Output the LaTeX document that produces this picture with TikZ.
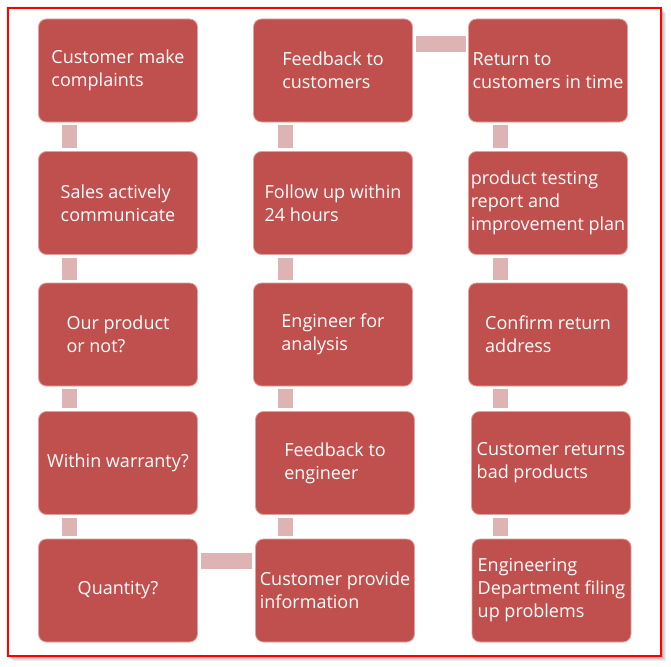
\documentclass[tikz,border=0pt]{standalone}
\usepackage{fontspec}
\setmainfont{Open Sans}
\usetikzlibrary{calc}
\definecolor{boxred}{RGB}{192,80,77}
\definecolor{boxedge}{RGB}{226,160,158}
\definecolor{conn}{RGB}{222,179,179}
\definecolor{framered}{RGB}{255,0,0}
\begin{document}
\begin{tikzpicture}[x=1pt,y=-1pt,
  stepbox/.style={rounded corners=8pt, fill=boxred, draw=boxedge, line width=0.8pt,
    text=white, font=\fontsize{18}{23}\selectfont, align=left,
    minimum width=159pt, minimum height=103pt, inner sep=1pt},
  connbar/.style={conn, line width=15pt, line cap=butt},
  connbarh/.style={conn, line width=16pt, line cap=butt}]
\useasboundingbox (0,0) rectangle (671,666);
% frame with shadow
\foreach \i in {1,...,5}{
  \fill[black, opacity=0.07] (8+\i,8+\i) rectangle (661+\i,656+\i);
}
\fill[black, opacity=0.04] (6,6) rectangle (663,658);
\fill[white] (8,8) rectangle (661,656);
\draw[framered, line width=1.3pt] (8,8) rectangle (661,656);

% column axes for the connector bars
\coordinate (axA) at (69.5,0);
\coordinate (axB) at (285,0);
\coordinate (axC) at (500.5,0);

% column 1
\node[stepbox] (a1) at (118,70.5) {Customer make\\complaints};
\node[stepbox] (a2) at (118,203) {Sales actively\\communicate};
\node[stepbox] (a3) at (118,334.5) {Our product\\or not?};
\node[stepbox] (a4) at (118,463) {Within warranty?};
\node[stepbox] (a5) at (118,590.5) {Quantity?};
% column 2
\node[stepbox] (b1) at (333,70.5) {Feedback to\\customers};
\node[stepbox] (b2) at (333,203) {Follow up within\\24 hours};
\node[stepbox] (b3) at (333,334.5) {Engineer for\\analysis};
\node[stepbox] (b4) at (335,463) {Feedback to\\engineer};
\node[stepbox] (b5) at (335,590.5) {Customer provide\\information};
% column 3
\node[stepbox] (c1) at (548,70.5) {Return to\\customers in time};
\node[stepbox] (c2) at (548,203) {product testing\\report and\\improvement plan};
\node[stepbox] (c3) at (548,334.5) {Confirm return\\address};
\node[stepbox] (c4) at (551,463) {Customer returns\\bad products};
\node[stepbox] (c5) at (551.5,590.5) {Engineering\\Department filing\\up problems};

% vertical connectors
\foreach \u/\v/\ax in {a1/a2/axA,a2/a3/axA,a3/a4/axA,a4/a5/axA,
                       b1/b2/axB,b2/b3/axB,b3/b4/axB,b4/b5/axB,
                       c1/c2/axC,c2/c3/axC,c3/c4/axC,c4/c5/axC}{
  \draw[connbar] ($(\u.south -| \ax)+(0,3)$) -- ($(\v.north -| \ax)+(0,-3)$);
}
% horizontal connectors
\draw[connbarh] ($(b1.north east)+(3,25)$) -- ($(c1.north west)+(-2,25)$);
\draw[connbarh] ($(a5.north east)+(3,22)$) -- ($(b5.north west)+(-3,22)$);
\end{tikzpicture}
\end{document}
